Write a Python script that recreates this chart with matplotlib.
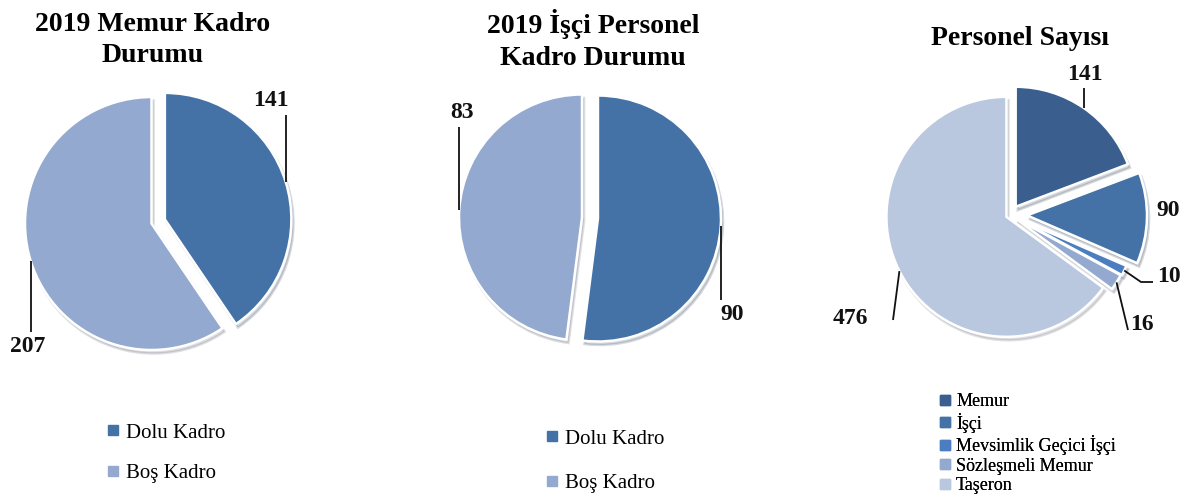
import matplotlib

matplotlib.use("Agg")

import matplotlib.pyplot as plt
import numpy as np
from matplotlib.lines import Line2D

plt.rcParams["font.family"] = ["Liberation Serif", "DejaVu Serif"]

W, H = 1189, 498

memur_labels = ["Dolu Kadro", "Boş Kadro"]
memur_values = [141, 207]
isci_labels = ["Dolu Kadro", "Boş Kadro"]
isci_values = [90, 83]
personel_labels = ["Memur", "İşçi", "Mevsimlik Geçici İşçi", "Sözleşmeli Memur", "Taşeron"]
personel_values = [141, 90, 10, 16, 476]

kadro_colors = ["#4472a7", "#94a9cf"]
personel_colors = ["#3a5f8f", "#4472a7", "#4a7ec0", "#94a9cf", "#b9c7df"]

fig = plt.figure(figsize=(W / 100, H / 100), dpi=100)
ax = fig.add_axes([0, 0, 1, 1])


def py(y):
    # layout is read top-down in pixels, the axes runs bottom-up
    return H - y


def draw_pie(values, colors, center, radius, explode, label_specs):
    # explode is in data units here, i.e. pixels
    wedges, _ = ax.pie(
        values,
        colors=colors,
        startangle=90,
        counterclock=False,
        center=(center[0], py(center[1])),
        radius=radius,
        explode=explode,
        frame=True,
        wedgeprops=dict(edgecolor="white", linewidth=1.8),
        shadow=dict(ox=1.5, oy=-2.5, shade=0.55, alpha=0.18),
    )
    for wedge, value, spec in zip(wedges, values, label_specs):
        tx, ty, ha, leader = spec
        ax.text(tx, py(ty), str(value), ha=ha, va="center",
                fontsize=17, fontweight="bold", color="#111111")
        if leader is None:
            continue
        mid = np.deg2rad((wedge.theta1 + wedge.theta2) / 2)
        xs = [wedge.center[0] + wedge.r * np.cos(mid)]
        ys = [wedge.center[1] + wedge.r * np.sin(mid)]
        for lx, ly in leader:
            xs.append(xs[0] if lx is None else lx)
            ys.append(py(ly))
        ax.plot(xs, ys, color="#111111", linewidth=1.3, solid_capstyle="butt")
    return wedges


def add_legend(labels, colors, x, y, fontsize, spacing):
    handles = [Line2D([], [], linestyle="none", marker="s", markersize=6.5,
                      markerfacecolor=c, markeredgecolor=c) for c in colors]
    leg = ax.legend(handles, labels, loc="upper left",
                    bbox_to_anchor=(x, py(y)), bbox_transform=ax.transData,
                    frameon=False, fontsize=fontsize, handlelength=0.7,
                    handletextpad=0.25, labelspacing=spacing,
                    borderpad=0, borderaxespad=0)
    ax.add_artist(leg)


# chart 1
draw_pie(memur_values, kadro_colors, (151.5, 223.5), 126.5, [14, 0],
         [(271, 100, "center", [(None, 115)]),
          (28, 347, "center", [(None, 332)])])
ax.text(153, py(40), "2019 Memur Kadro\nDurumu", ha="center", va="center",
        fontsize=20, fontweight="bold", linespacing=1.35)
add_legend(memur_labels, kadro_colors, 106, 423, 15, 1.02)

# chart 2
draw_pie(isci_values, kadro_colors, (582, 217.5), 123, [16, 0],
         [(732, 315, "center", [(None, 300)]),
          (462, 112, "center", [(None, 127)])])
ax.text(593, py(40), "2019 İşçi Personel\nKadro Durumu", ha="center", va="center",
        fontsize=20, fontweight="bold", linespacing=1.35)
add_legend(isci_labels, kadro_colors, 545, 429, 15, 1.21)

# chart 3
draw_pie(personel_values, personel_colors, (1010, 215), 120,
         [10, 17, 7, 6, 4],
         [(1085, 74, "center", [(None, 88)]),
          (1168, 210, "center", None),
          (1157, 277, "left", [(1141, 282), (1153, 282)]),
          (1142, 325, "center", [(1128, 330)]),
          (850, 318, "center", [(893, 320)])])
ax.text(1020, py(38), "Personel Sayısı", ha="center", va="center",
        fontsize=20, fontweight="bold")
add_legend(personel_labels, personel_colors, 939, 393, 13, 0.14)

ax.set_xlim(0, W)
ax.set_ylim(0, H)
ax.set_aspect("equal")
ax.axis("off")

fig.savefig("out.png", dpi=100, facecolor="white")
plt.close(fig)
